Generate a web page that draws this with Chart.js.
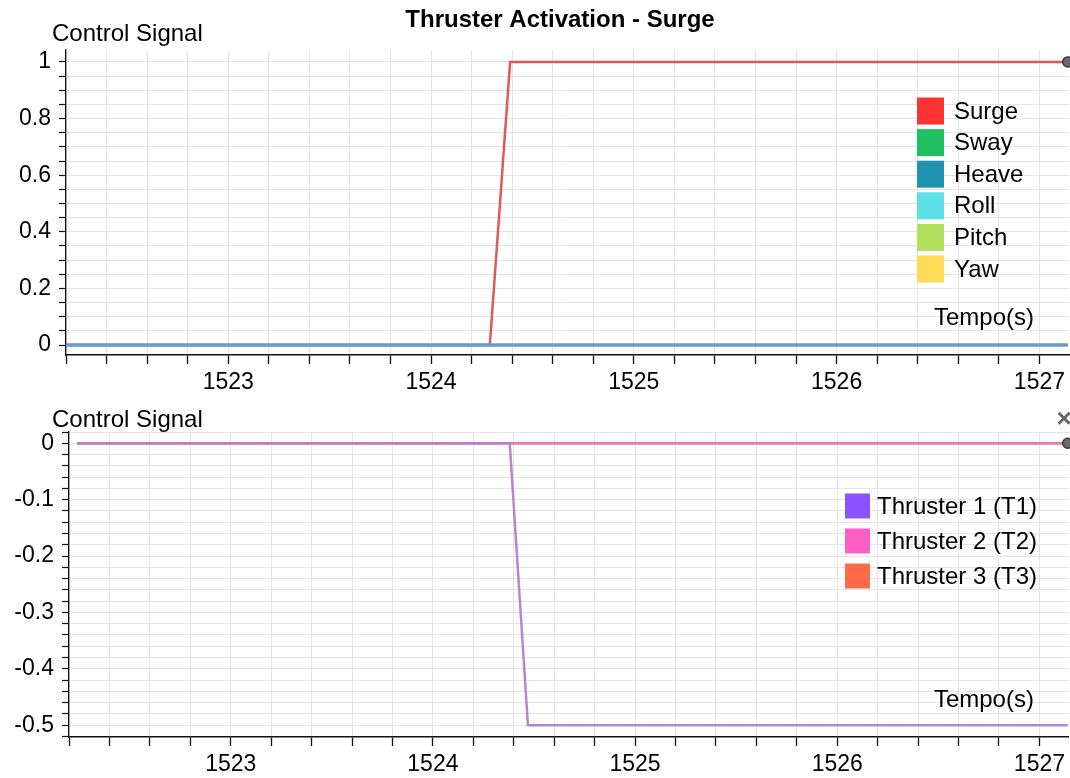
<!DOCTYPE html>
<html>
<head>
<meta charset="utf-8">
<script src="https://cdn.jsdelivr.net/npm/chart.js@4"></script>
<style>
  html, body { margin: 0; padding: 0; background: #fff; overflow: hidden; }
  #top { position: absolute; left: 0; top: 0; width: 1070px; height: 400px; }
  #bottom { position: absolute; left: 0; top: 400px; width: 1070px; height: 378px; }
</style>
</head>
<body>
<div id="top"><canvas id="c1"></canvas></div>
<div id="bottom"><canvas id="c2"></canvas></div>
<script>
// top chart data (time in s)
const timeTop = [1522.2, 1524.29, 1524.39, 1527.14];
const surge = [0, 0, 1, 1];
const sway = [0, 0, 0, 0];
const heave = [0, 0, 0, 0];
const roll = [0, 0, 0, 0];
const pitch = [0, 0, 0, 0];
const yaw = [0, 0, 0, 0];
const dofLabels = ['Surge', 'Sway', 'Heave', 'Roll', 'Pitch', 'Yaw'];
const dofColors = ['#ff3333', '#1fbf62', '#1f93b0', '#5ce1e6', '#b1e05c', '#ffdb58'];

// bottom chart data
const timeBottom = [1522.24, 1524.38, 1524.47, 1527.14];
const t1 = [0, 0, -0.5, -0.5];
const t2 = [0, 0, 0, 0];
const t3 = [0, 0, 0, 0];
const thrLabels = ['Thruster 1 (T1)', 'Thruster 2 (T2)', 'Thruster 3 (T3)'];
const thrColors = ['#8c52ff', '#ff5ec4', '#ff6b4a'];

const FONT = '"Liberation Sans", Arial, sans-serif';
Chart.defaults.font.family = FONT;
Chart.defaults.color = '#000';

function pts(xs, ys) { return xs.map((x, i) => ({x: x, y: ys[i]})); }

// ticks on every multiple of step between min and max
function onStep(step) {
  return scale => {
    const out = [];
    const k0 = Math.ceil(scale.min / step - 1e-9), k1 = Math.floor(scale.max / step + 1e-9);
    for (let k = k0; k <= k1; k++) out.push({ value: Math.round(k * step * 1e6) / 1e6 });
    scale.ticks = out;
  };
}

const decor = {
  id: 'decor',
  afterDatasetsDraw(chart, args, o) {
    // grey marker on last sample of the chosen series
    const ctx = chart.ctx;
    const meta = chart.getDatasetMeta(o.dotSeries);
    const p = meta.data[meta.data.length - 1];
    ctx.save();
    ctx.beginPath();
    ctx.arc(p.x, p.y, 5, 0, Math.PI * 2);
    ctx.fillStyle = '#6a6a6a';
    ctx.fill();
    ctx.lineWidth = 1.5;
    ctx.strokeStyle = '#3a3a3a';
    ctx.stroke();
    ctx.restore();
  },
  afterDraw(chart, args, o) {
    const ctx = chart.ctx, a = chart.chartArea;
    ctx.save();
    ctx.textBaseline = 'middle';
    if (o.title) {
      ctx.fillStyle = '#000';
      ctx.font = 'bold 24px ' + FONT;
      ctx.textAlign = 'center';
      ctx.fillText(o.title, 560, 20);
    }
    ctx.fillStyle = '#000';
    ctx.font = '24px ' + FONT;
    ctx.textAlign = 'left';
    ctx.fillText('Control Signal', 52, o.yTitleY);
    ctx.textAlign = 'right';
    ctx.fillText('Tempo(s)', a.right - 35, a.bottom - 37);
    ctx.textAlign = 'left';
    chart.data.datasets.forEach((ds, i) => {
      const y = o.legY + i * o.legDy;
      ctx.fillStyle = ds.backgroundColor;
      ctx.fillRect(o.legX, y - o.box / 2, o.box, o.box);
      ctx.fillStyle = '#000';
      ctx.fillText(ds.label, o.legX + o.box + o.gap, y + 1);
    });
    if (o.close) {
      ctx.fillStyle = '#666';
      ctx.font = 'bold 26px ' + FONT;
      ctx.textAlign = 'center';
      ctx.fillText('\u00d7', 1064, 20);
    }
    ctx.restore();
  }
};

function makeOpts(cfg) {
  return {
    responsive: true,
    maintainAspectRatio: false,
    animation: false,
    layout: { padding: { top: cfg.padTop, left: 0, right: 0, bottom: 0 } },
    plugins: {
      legend: { display: false },
      tooltip: { enabled: false },
      title: { display: false },
      decor: cfg.decor
    },
    scales: {
      x: {
        type: 'linear',
        min: 1522.2, max: 1527.146,
        afterBuildTicks: onStep(0.2),
        afterFit: s => { s.height = cfg.xh; },
        ticks: {
          autoSkip: false, maxRotation: 0, padding: 5,
          font: { size: 23 }, color: '#000',
          callback: v => Math.abs(v - Math.round(v)) < 1e-6 ? String(Math.round(v)) : ''
        },
        grid: { color: '#e4e4e4', tickColor: '#111', tickLength: 9, tickWidth: 1.3 },
        border: { color: '#111', width: 1.5 }
      },
      y: {
        min: cfg.ymin, max: cfg.ymax,
        afterBuildTicks: onStep(cfg.minor),
        afterFit: s => { s.width = cfg.yw; },
        ticks: {
          autoSkip: false, padding: 8,
          font: { size: 23 }, color: '#000',
          callback: v => {
            const k = v / cfg.major;
            if (Math.abs(k - Math.round(k)) > 1e-6) return '';
            const r = Math.round(k) * cfg.major;
            return Math.abs(r) < 1e-9 ? '0' : String(parseFloat(r.toFixed(2)));
          }
        },
        grid: { color: '#e4e4e4', tickColor: '#111', tickLength: 7, tickWidth: 1.2 },
        border: { color: '#111', width: 1.3 }
      }
    }
  };
}

const zeroLine = 'rgba(105,155,202,0.95)';
const topSeries = [surge, sway, heave, roll, pitch, yaw];
new Chart(document.getElementById('c1'), {
  type: 'line',
  data: {
    datasets: topSeries.map((ys, i) => ({
      label: dofLabels[i],
      data: pts(timeTop, ys),
      backgroundColor: dofColors[i],
      borderColor: i === 0 ? 'rgba(222,70,70,0.9)' : zeroLine,
      borderWidth: 2.5,
      pointRadius: 0,
      order: i === 0 ? 1 : 0,
      tension: 0
    }))
  },
  options: makeOpts({
    padTop: 50,
    ymin: -0.035, ymax: 1.042, minor: 0.05, major: 0.2, yw: 66, xh: 45,
    decor: { title: 'Thruster Activation - Surge', yTitleY: 34, legX: 917, legY: 111, legDy: 31.6, box: 27, gap: 10, dotSeries: 0 }
  }),
  plugins: [decor]
});

const botSeries = [t1, t2, t3];
const botLines = ['rgba(178,128,205,0.95)', 'rgba(232,118,182,0.95)', 'rgba(240,120,90,0.95)'];
new Chart(document.getElementById('c2'), {
  type: 'line',
  data: {
    datasets: botSeries.map((ys, i) => ({
      label: thrLabels[i],
      data: pts(timeBottom, ys),
      backgroundColor: thrColors[i],
      borderColor: botLines[i],
      borderWidth: 2.5,
      pointRadius: 0,
      tension: 0
    }))
  },
  options: makeOpts({
    padTop: 32,
    ymin: -0.521, ymax: 0.02, minor: 0.02, major: 0.1, yw: 69, xh: 41,
    decor: { yTitleY: 20, legX: 845, legY: 106, legDy: 35, box: 25, gap: 7, close: true, dotSeries: 1 }
  }),
  plugins: [decor]
});
</script>
</body>
</html>
